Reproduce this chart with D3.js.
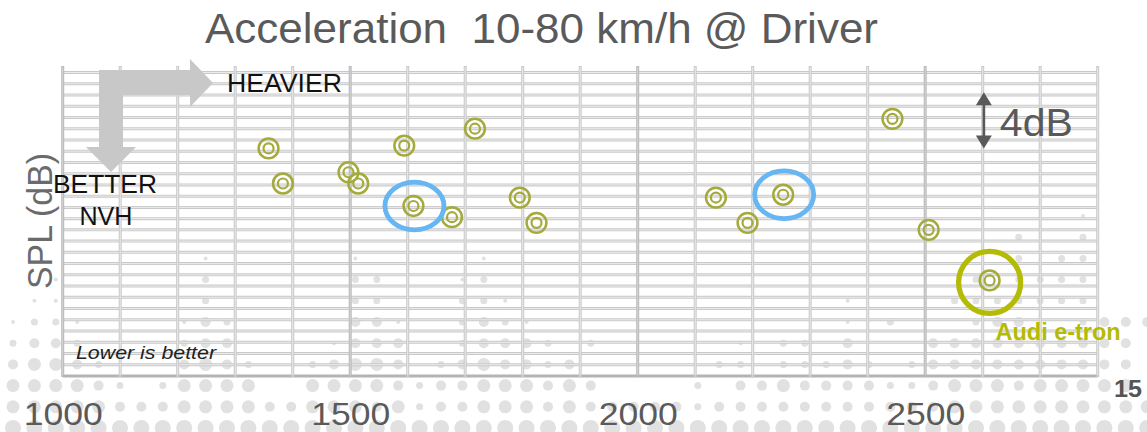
<!DOCTYPE html>
<html>
<head>
<meta charset="utf-8">
<script src="https://cdn.jsdelivr.net/npm/d3@7"></script>
<style>
  html, body { margin: 0; padding: 0; background: #fff; }
  svg { display: block; font-family: "Liberation Sans", Arial, sans-serif; }
</style>
</head>
<body>
<svg id="chart" width="1147" height="432"></svg>
<script>
// Vehicle mass (kg) and cabin SPL at the driver (dB, relative) for each tested car
const vehicleMass = [1358, 1383, 1497, 1514, 1594, 1610, 1677, 1717, 1795, 1824, 2136, 2191, 2253, 2443, 2506, 2612];
const splDb       = [16.2, 13.7, 14.5, 13.7, 16.4, 12.1, 11.3, 17.6, 12.7, 10.9, 12.7, 10.9, 12.9, 18.3, 10.4, 6.8];
const circledCars = [5, 12];
const featuredCar = 15;
const featuredName = "Audi e-tron";
const massTicks = [1000, 1500, 2000, 2500];
const massGrid = d3.range(1000, 2801, 100);
const splGrid = d3.range(0, 28).map(i => +(i * 0.8).toFixed(1));
const scaleBar = { mass: 2602, from: 16.2, span: 4, label: "4dB" };

// Halftone backdrop, one string per row (bottom row last), digit = dot size
const halftoneRows = [
  "000000000000000000000000000000000000000000000000001000",
  "000000000000000000000000000000000000000000000002002000",
  "000000000100000010000010000000000000000000000002022000",
  "001000000200000022000120000000000000000000000202222000",
  "011000000200000022000221000000000000000100002222222000",
  "122100001320000033100232100000000000000102000233002333",
  "233200002330000133300233320200000010220300033333333330",
  "344320003432002344302343323000000220222320233333333330",
  "444432024444004444323344434300002033433332234443444440",
  "444443334444334443423344434333332333333333334444444444",
  "555555555555555555555555555555555555555555555555555555"
];
const dotRadius = [0, 2, 3.5, 5, 6.5, 8];

const svg = d3.select("#chart");
const W = 1147, H = 432;

const x = d3.scaleLinear().domain([1000, 2800]).range([62.7, 1097.7]);
const y = d3.scaleLinear().domain([0, 21.6]).range([376, 72.5]);

// background
svg.append("rect").attr("width", W).attr("height", H).attr("fill", "#fff");

// halftone dots
const dots = [];
halftoneRows.forEach((row, r) => {
  const fromBottom = halftoneRows.length - 1 - r;
  row.split("").forEach((c, k) => {
    const lvl = +c;
    if (lvl > 0) dots.push({ cx: 13 + 21.4 * k, cy: 428 - 21.2 * fromBottom, r: dotRadius[lvl] });
  });
});
svg.append("g").selectAll("circle").data(dots).join("circle")
  .attr("cx", d => d.cx).attr("cy", d => d.cy).attr("r", d => d.r)
  .attr("fill", "#e1e1e1");

// grid: horizontal rows
const grid = svg.append("g");
const hLines = grid.append("g");
hLines.selectAll("line.edge").data(splGrid).join("line").attr("class", "edge")
  .attr("x1", x(1000)).attr("x2", x(2800))
  .attr("y1", d => y(d)).attr("y2", d => y(d))
  .attr("stroke", d => d === 0 ? "#b4b4b4" : "#c9c9c9").attr("stroke-width", 3);
hLines.selectAll("line.mid").data(splGrid.filter(d => d > 0)).join("line").attr("class", "mid")
  .attr("x1", x(1000)).attr("x2", x(2800))
  .attr("y1", d => y(d)).attr("y2", d => y(d))
  .attr("stroke", "#ececec").attr("stroke-width", 1);

// grid: vertical columns
const vLines = grid.append("g");
vLines.selectAll("line.edge").data(massGrid).join("line").attr("class", "edge")
  .attr("x1", d => x(d)).attr("x2", d => x(d))
  .attr("y1", 66).attr("y2", y(0) + 1)
  .attr("stroke", d => d % 500 === 0 ? "#b9b9b9" : "#c9c9c9").attr("stroke-width", 3);
vLines.selectAll("line.mid").data(massGrid).join("line").attr("class", "mid")
  .attr("x1", d => x(d)).attr("x2", d => x(d))
  .attr("y1", 67).attr("y2", y(0) - 1)
  .attr("stroke", d => d % 500 === 0 ? "#d6d6d6" : "#ebebeb").attr("stroke-width", 1);

// direction arrow (heavier to the right, better NVH downward)
svg.append("path")
  .attr("d", "M99,70 L190,70 L190,59 L213,83 L190,107 L190,95 L123,95 L123,147 L136,147 L111,172 L86,147 L99,147 Z")
  .attr("fill", "#c8c8c8");

svg.append("text").text("HEAVIER")
  .attr("x", 227).attr("y", 92).attr("font-size", 25).attr("fill", "#111")
  .attr("textLength", 115).attr("lengthAdjust", "spacingAndGlyphs");
svg.append("text").text("BETTER")
  .attr("x", 105).attr("y", 193).attr("font-size", 25).attr("fill", "#111")
  .attr("text-anchor", "middle").attr("textLength", 104).attr("lengthAdjust", "spacingAndGlyphs");
svg.append("text").text("NVH")
  .attr("x", 106).attr("y", 225).attr("font-size", 25).attr("fill", "#111")
  .attr("text-anchor", "middle").attr("textLength", 53).attr("lengthAdjust", "spacingAndGlyphs");
svg.append("text").text("Lower is better")
  .attr("x", 76).attr("y", 359).attr("font-size", 18).attr("font-style", "italic").attr("fill", "#222")
  .attr("textLength", 140).attr("lengthAdjust", "spacingAndGlyphs");

// title
svg.append("text").text("Acceleration  10-80 km/h @ Driver")
  .attr("x", 205).attr("y", 43).attr("font-size", 42).attr("fill", "#5a5a5a")
  .attr("xml:space", "preserve").style("white-space", "pre")
  .attr("textLength", 673).attr("lengthAdjust", "spacingAndGlyphs");

// y axis title
svg.append("text").text("SPL (dB)")
  .attr("transform", "translate(52,221) rotate(-90)")
  .attr("text-anchor", "middle").attr("font-size", 35).attr("fill", "#6b6b6b")
  .attr("textLength", 136).attr("lengthAdjust", "spacingAndGlyphs");

// x axis labels
const xAxis = d3.axisBottom(x).tickValues(massTicks).tickSize(0).tickPadding(0).tickFormat(d3.format("d"));
const ax = svg.append("g").attr("transform", "translate(0,425)").call(xAxis);
ax.attr("font-family", null).attr("font-size", 31);
ax.select(".domain").remove();
ax.selectAll(".tick text")
  .attr("y", 0).attr("dy", 0).attr("fill", "#5a5a5a")
  .attr("textLength", 79).attr("lengthAdjust", "spacingAndGlyphs");

// 4 dB scale bar
const sbX = x(scaleBar.mass), sbTop = y(scaleBar.from + scaleBar.span), sbBot = y(scaleBar.from);
const sb = svg.append("g").attr("fill", "#595959");
sb.append("line").attr("x1", sbX).attr("x2", sbX).attr("y1", sbTop + 10).attr("y2", sbBot - 10)
  .attr("stroke", "#595959").attr("stroke-width", 2.7);
sb.append("path").attr("d", `M${sbX - 8},${sbTop + 13} L${sbX},${sbTop} L${sbX + 8},${sbTop + 13} Z`);
sb.append("path").attr("d", `M${sbX - 8},${sbBot - 13} L${sbX},${sbBot} L${sbX + 8},${sbBot - 13} Z`);
sb.append("text").text(scaleBar.label)
  .attr("x", sbX + 16).attr("y", 136).attr("font-size", 38)
  .attr("textLength", 73).attr("lengthAdjust", "spacingAndGlyphs");

// data markers: double rings
const cars = vehicleMass.map((m, i) => ({ m, spl: splDb[i], i }));
const marks = svg.append("g").selectAll("g").data(cars).join("g")
  .attr("transform", d => `translate(${x(d.m)},${y(d.spl)})`)
  .attr("fill", "none").attr("stroke", "#a5aa3c");
marks.append("circle").attr("r", 9.9).attr("stroke-width", 2.5);
marks.append("circle").attr("r", 5).attr("stroke-width", 2.2);

// highlighted cars
svg.append("g").selectAll("ellipse").data(circledCars.map(i => cars[i])).join("ellipse")
  .attr("cx", d => x(d.m) + 1).attr("cy", d => y(d.spl))
  .attr("rx", 29.5).attr("ry", 23.8)
  .attr("fill", "none").attr("stroke", "#66b6f4").attr("stroke-width", 4.8);

const fc = cars[featuredCar];
svg.append("circle")
  .attr("cx", x(fc.m)).attr("cy", y(fc.spl) + 2).attr("r", 31)
  .attr("fill", "none").attr("stroke", "#b4bb05").attr("stroke-width", 5.3);
svg.append("text").text(featuredName)
  .attr("x", x(fc.m) + 6).attr("y", y(fc.spl) + 60)
  .attr("font-size", 23).attr("font-weight", "bold").attr("fill", "#b4bb05")
  .attr("textLength", 125).attr("lengthAdjust", "spacingAndGlyphs");

// page number
svg.append("text").text("15")
  .attr("x", 1142).attr("y", 397).attr("text-anchor", "end")
  .attr("font-size", 23).attr("font-weight", "bold").attr("fill", "#555")
  .attr("textLength", 28).attr("lengthAdjust", "spacingAndGlyphs");
</script>
</body>
</html>
